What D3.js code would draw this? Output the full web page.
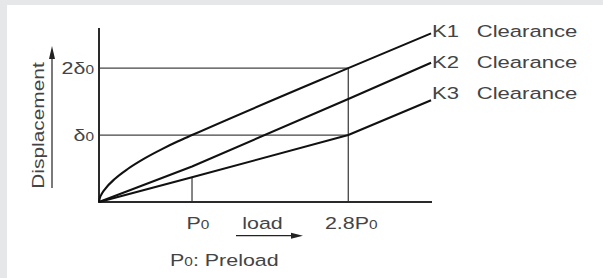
<!DOCTYPE html>
<html>
<head>
<meta charset="utf-8">
<script src="https://cdn.jsdelivr.net/npm/d3@7"></script>
<style>
  html, body { margin: 0; padding: 0; background: #e6e7e9; }
  svg { display: block; }
  text { font-family: "Liberation Sans", Arial, sans-serif; fill: #444; }
</style>
</head>
<body>
<script>
// ---- data (load in units of the schematic x axis, displacement in units of δ0) ----
const seriesNames = ["K1", "K2", "K3"];
const k1Clearance = [[0,0],[0.01,0.063],[0.03,0.122],[0.065,0.194],[0.172,0.348],[0.312,0.497],[0.495,0.656],[0.677,0.791],[0.85,0.907],[1,1],[2.68,2.0],[3.57,2.52]];
const k2Clearance = [[0,0],[1,0.53],[2.68,1.54],[3.57,2.08]];
const k3Clearance = [[0,0],[1,0.37],[2.68,1.0],[3.57,1.52]];
const loadTicks = [1, 2.68];
const loadTickLabels = [["P","0"],["2.8P","0"]];
const dispTicks = [1, 2];
const dispTickLabels = [["δ","0"],["2δ","0"]];
const xAxisTitle = "load";
const yAxisTitle = "Displacement";
const note = ["P","0",": Preload"];
const legendSuffix = "Clearance";

const W = 603, H = 278, SX = 1.3;
const svg = d3.select("body").append("svg").attr("width", W).attr("height", H);
svg.append("rect").attr("x", 7).attr("y", 5).attr("width", W - 7).attr("height", H - 5).attr("fill", "#fff");

const x = d3.scaleLinear().domain([0, 3.58]).range([99, 432]);
const y = d3.scaleLinear().domain([0, 2.6]).range([202, 28]);

// reference lines
const ref = svg.append("g").attr("stroke", "#444").attr("stroke-width", 1.3).attr("fill", "none");
dispTicks.forEach(v => {
  ref.append("line").attr("x1", x(0)).attr("x2", x(loadTicks[1])).attr("y1", y(v)).attr("y2", y(v));
});
ref.append("line").attr("x1", x(loadTicks[1])).attr("x2", x(loadTicks[1])).attr("y1", y(2)).attr("y2", y(0));
ref.append("line").attr("x1", x(loadTicks[0])).attr("x2", x(loadTicks[0])).attr("y1", y(k3Clearance[1][1])).attr("y2", y(0));

// axes
const ax = svg.append("g").attr("stroke", "#2a2a2a").attr("stroke-width", 2);
ax.append("line").attr("x1", x(0)).attr("x2", x(0)).attr("y1", y(2.6)).attr("y2", y(0));
ax.append("line").attr("x1", x(0) - 1).attr("x2", x(3.58)).attr("y1", y(0)).attr("y2", y(0));

// curves
const g = svg.append("g").attr("fill", "none").attr("stroke", "#111").attr("stroke-width", 2.1).attr("stroke-linejoin", "round");
g.append("path").attr("d", d3.line().x(d => x(d[0])).y(d => y(d[1])).curve(d3.curveMonotoneX)(k1Clearance));
g.append("path").attr("d", d3.line().x(d => x(d[0])).y(d => y(d[1]))(k2Clearance));
g.append("path").attr("d", d3.line().x(d => x(d[0])).y(d => y(d[1]))(k3Clearance));

// helper for text with small zero
function subText(parent, px, py, parts, anchor, fs) {
  const t = parent.append("text")
    .attr("transform", `translate(${px},${py}) scale(${SX},1)`)
    .attr("text-anchor", anchor).attr("font-size", fs);
  parts.forEach((p, i) => {
    t.append("tspan").attr("font-size", i % 2 === 1 ? fs * 0.72 : fs).text(p);
  });
  return t;
}

// y tick labels
dispTicks.forEach((v, i) => subText(svg, 94, y(v) + 5.5, dispTickLabels[i], "end", 16.5));
// x tick labels
loadTicks.forEach((v, i) => subText(svg, x(v) + (i === 0 ? 6 : 3), 229, loadTickLabels[i], "middle", 16.5));

// x title + arrow
subText(svg, 262.5, 229, [xAxisTitle], "middle", 16.5);
svg.append("line").attr("x1", 236).attr("x2", 294).attr("y1", 235.7).attr("y2", 235.7).attr("stroke", "#222").attr("stroke-width", 1.2);
svg.append("path").attr("d", "M303,235.7 L291,232.7 L291,238.7 Z").attr("fill", "#222");

// y title + arrow
svg.append("text")
  .attr("transform", `translate(44,125.5) rotate(-90) scale(1.28,1)`)
  .attr("text-anchor", "middle").attr("font-size", 16.3).text(yAxisTitle);
svg.append("line").attr("x1", 52).attr("x2", 52).attr("y1", 188).attr("y2", 57).attr("stroke", "#222").attr("stroke-width", 1.2);
svg.append("path").attr("d", "M52,46 L49,59 L55,59 Z").attr("fill", "#222");

// note
subText(svg, 170, 266, note, "start", 16.5);

// legend labels at line ends
const legY = [36.7, 68.3, 99.3];
seriesNames.forEach((n, i) => {
  subText(svg, 432, legY[i], [n], "start", 17);
  subText(svg, 476.7, legY[i], [legendSuffix], "start", 17);
});
</script>
</body>
</html>
